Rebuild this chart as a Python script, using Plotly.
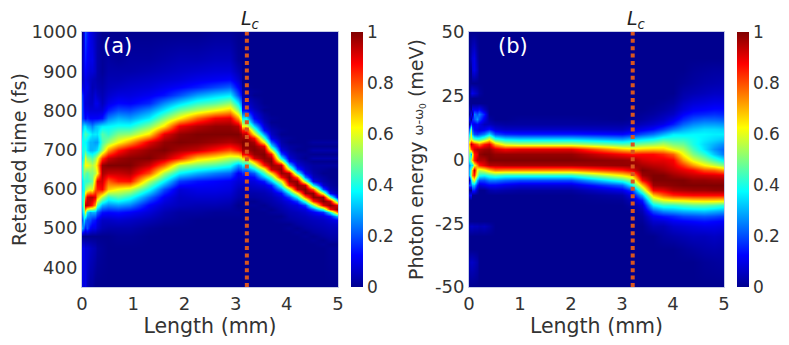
import plotly.graph_objects as go

# panel (a): retarded time vs length
# every dict is one column, rows that are left out are 0
a_time = [350, 450, 480, 500, 520, 540, 560, 580, 600, 620, 640, 660, 680, 700, 720, 740, 760, 780,
          800, 820, 840, 860, 880, 900, 930, 1000]
a_length = [0, 0.03, 0.06, 0.1, 0.15, 0.2, 0.25, 0.3, 0.4, 0.5, 0.7, 0.94, 1.3, 1.6, 1.9, 2.25, 2.6, 2.89, 3.05, 3.2]
a_columns = [
    {350: .1, 450: .1, 500: .3, 520: .2, 540: .3, 560: .35, 580: .38, 600: .35, 620: .35, 640: .4, 660: .4, 680: .35, 700: .38, 720: .38, 740: .35, 760: .3, 780: .2, 800: .2, 820: .2, 840: .18, 860: .1, 880: .05, 900: .05, 930: .05},
    {350: .08, 450: .1, 500: .2, 520: .35, 540: .45, 560: .55, 580: .45, 600: .4, 620: .42, 640: .5, 660: .55, 680: .45, 700: .4, 720: .38, 740: .42, 760: .35, 780: .15, 800: .12, 820: .1, 840: .1, 860: .08, 880: .08, 900: .1, 930: .12, 1000: .12},
    {350: .1, 450: .08, 500: .15, 520: .25, 540: .6, 560: .95, 580: .75, 600: .5, 620: .42, 640: .48, 660: .62, 680: .6, 700: .42, 720: .38, 740: .45, 760: .35, 780: .12, 800: .1, 820: .08, 840: .1, 860: .1, 880: .1, 900: .12, 930: .15, 1000: .2},
    {350: .05, 450: .08, 500: .2, 520: .2, 540: .35, 560: .95, 580: .92, 600: .55, 620: .42, 640: .45, 660: .62, 680: .5, 700: .35, 720: .35, 740: .42, 760: .3, 780: .15, 800: .1, 820: .08, 840: .08, 860: .1, 880: .08, 900: .1, 930: .12, 1000: .15},
    {350: .02, 450: .06, 500: .12, 520: .2, 540: .28, 560: .9, 580: .95, 600: .6, 620: .45, 640: .5, 660: .58, 680: .48, 700: .3, 720: .3, 740: .38, 760: .28, 780: .12, 800: .08, 820: .06, 840: .06, 860: .06, 880: .06, 900: .08, 930: .1, 1000: .1},
    {350: .02, 450: .05, 500: .1, 520: .16, 540: .3, 560: .85, 580: .95, 600: .58, 620: .48, 640: .5, 660: .55, 680: .45, 700: .3, 720: .3, 740: .35, 760: .25, 780: .12, 800: .08, 820: .06, 840: .05, 860: .04, 880: .05, 900: .08, 930: .1, 1000: .08},
    {450: .04, 500: .1, 520: .14, 540: .3, 560: .72, 580: .9, 600: .78, 620: .7, 640: .55, 660: .6, 680: .52, 700: .32, 720: .28, 740: .36, 760: .3, 780: .12, 800: .08, 820: .1, 840: .08, 860: .05, 880: .04, 900: .06, 930: .06, 1000: .05},
    {450: .02, 500: .07, 520: .1, 540: .22, 560: .45, 580: .72, 600: .85, 620: .9, 640: .62, 660: .68, 680: .6, 700: .35, 720: .28, 740: .35, 760: .32, 780: .12, 800: .08, 820: .1, 840: .06, 860: .04, 880: .03, 900: .03, 930: .03, 1000: .03},
    {450: .01, 500: .04, 520: .06, 540: .14, 560: .3, 580: .55, 600: .88, 620: .92, 640: .96, 660: .98, 680: .82, 700: .52, 720: .44, 740: .46, 760: .36, 780: .14, 800: .08, 820: .05, 840: .04, 860: .03, 880: .02, 900: .01, 930: .01},
    {500: .03, 520: .06, 540: .13, 560: .26, 580: .42, 600: .68, 620: .78, 640: .93, 660: 1, 680: .93, 700: .72, 720: .52, 740: .42, 760: .37, 780: .25, 800: .15, 820: .1, 840: .07, 860: .05, 880: .04, 900: .03, 930: .02},
    {480: .01, 500: .03, 520: .07, 540: .14, 560: .28, 580: .46, 600: .62, 620: .85, 640: .93, 660: 1, 680: .97, 700: .85, 720: .62, 740: .5, 760: .39, 780: .3, 800: .2, 820: .13, 840: .09, 860: .06, 880: .04, 900: .03, 930: .01},
    {480: .01, 500: .03, 520: .06, 540: .12, 560: .25, 580: .4, 600: .58, 620: .86, 640: .95, 660: 1, 680: .99, 700: .93, 720: .72, 740: .52, 760: .39, 780: .28, 800: .19, 820: .12, 840: .09, 860: .07, 880: .05, 900: .03, 930: .02},
    {500: .01, 520: .04, 540: .08, 560: .12, 580: .23, 600: .39, 620: .55, 640: .8, 660: .93, 680: 1, 700: .98, 720: .9, 740: .65, 760: .5, 780: .36, 800: .26, 820: .16, 840: .11, 860: .08, 880: .06, 900: .04, 930: .02},
    {520: .02, 540: .04, 560: .07, 580: .11, 600: .2, 620: .37, 640: .54, 660: .78, 680: .95, 700: 1, 720: .98, 740: .9, 760: .65, 780: .5, 800: .36, 820: .26, 840: .14, 860: .1, 880: .07, 900: .05, 930: .03},
    {520: .01, 540: .02, 560: .05, 580: .06, 600: .08, 620: .18, 640: .37, 660: .55, 680: .85, 700: .96, 720: 1, 740: .98, 760: .89, 780: .63, 800: .47, 820: .34, 840: .2, 860: .12, 880: .08, 900: .06, 930: .04},
    {540: .02, 560: .04, 580: .07, 600: .1, 620: .14, 640: .3, 660: .49, 680: .68, 700: .93, 720: .99, 740: 1, 760: .95, 780: .78, 800: .55, 820: .42, 840: .28, 860: .15, 880: .1, 900: .07, 930: .04},
    {540: .01, 560: .04, 580: .07, 600: .1, 620: .125, 640: .25, 660: .45, 680: .62, 700: .86, 720: .97, 740: 1, 760: .98, 780: .88, 800: .62, 820: .46, 840: .33, 860: .19, 880: .11, 900: .08, 930: .05, 1000: .01},
    {540: .01, 560: .03, 580: .06, 600: .09, 620: .11, 640: .22, 660: .4, 680: .55, 700: .8, 720: .95, 740: 1, 760: .98, 780: .9, 800: .68, 820: .52, 840: .36, 860: .22, 880: .12, 900: .08, 930: .05, 1000: .01},
    {540: .01, 580: .03, 600: .05, 620: .08, 640: .11, 660: .28, 680: .55, 700: .86, 720: .97, 740: 1, 760: .95, 780: .72, 800: .5, 820: .36, 840: .2, 860: .12, 880: .07, 900: .04, 930: .01},
    {560: .01, 580: .02, 600: .04, 620: .08, 640: .16, 660: .36, 680: .66, 700: .96, 720: 1, 740: .94, 760: .63, 780: .37, 800: .13, 820: .07, 840: .03, 860: .01},
]

# the falling part of (a) is narrow, so it gets a finer grid
a2_time = [350, 450, 460, 470, 480, 490, 500, 510, 520, 530, 540, 550, 560, 570, 580, 590, 600, 610, 620, 630, 640, 650, 660, 670,
           680, 690, 700, 710, 720, 730, 740, 750, 760, 770, 780, 790, 800, 810, 820, 830, 840, 850, 860, 870, 880, 890, 900, 930, 1000]
a2_length = [3.2, 3.35, 3.55, 3.7, 3.88, 4.05, 4.2, 4.35, 4.52, 4.7, 4.85, 5]
a2_columns = [
    {560: .01, 580: .02, 590: .03, 600: .04, 610: .06, 620: .08, 630: .11, 640: .16, 650: .25, 660: .36, 670: .5, 680: .66, 690: .88, 700: .96, 710: .99, 720: 1, 730: .98, 740: .94, 750: .84, 760: .63, 770: .49, 780: .37, 790: .25, 800: .13, 810: .1, 820: .07, 830: .05, 840: .03, 850: .02, 860: .01},
    {560: .01, 580: .02, 590: .03, 600: .05, 610: .07, 620: .09, 630: .13, 640: .21, 650: .36, 660: .53, 670: .72, 680: .92, 690: .98, 700: 1, 710: .99, 720: .96, 730: .87, 740: .64, 750: .49, 760: .34, 770: .2, 780: .12, 790: .09, 800: .06, 810: .04, 820: .03, 830: .02, 850: .01},
    {550: .01, 570: .02, 580: .03, 590: .04, 600: .06, 610: .09, 620: .15, 630: .31, 640: .44, 650: .6, 660: .86, 670: .96, 680: .99, 690: 1, 700: .97, 710: .9, 720: .63, 730: .43, 740: .27, 750: .125, 760: .08, 770: .05, 780: .03, 790: .02, 810: .01},
    {540: .01, 560: .02, 570: .03, 580: .04, 590: .06, 600: .09, 610: .15, 620: .32, 630: .46, 640: .66, 650: .93, 660: .98, 670: 1, 680: .97, 690: .87, 700: .6, 710: .37, 720: .22, 730: .1, 740: .06, 750: .04, 760: .02, 780: .01},
    {520: .01, 540: .02, 550: .03, 560: .04, 570: .06, 580: .08, 590: .13, 600: .27, 610: .44, 620: .6, 630: .87, 640: .98, 650: .99, 660: .94, 670: .6, 680: .39, 690: .2, 700: .09, 710: .05, 720: .03, 730: .02, 750: .01},
    {500: .01, 520: .02, 530: .03, 540: .04, 550: .05, 560: .07, 570: .1, 580: .18, 590: .35, 600: .55, 610: .87, 620: .98, 630: 1, 640: .95, 650: .6, 660: .35, 670: .15, 680: .08, 690: .05, 700: .03, 710: .02, 730: .01},
    {490: .01, 510: .02, 520: .03, 530: .04, 540: .05, 550: .07, 560: .09, 570: .18, 580: .38, 590: .62, 600: .95, 610: 1, 620: .98, 630: .78, 640: .42, 650: .18, 660: .09, 670: .05, 680: .03, 690: .02, 710: .01},
    {480: .01, 500: .02, 510: .03, 520: .04, 530: .05, 540: .07, 550: .09, 560: .18, 570: .44, 580: .75, 590: .98, 600: 1, 610: .94, 620: .52, 630: .25, 640: .11, 650: .06, 660: .04, 670: .02, 690: .01},
    {470: .01, 490: .02, 500: .03, 510: .04, 520: .05, 530: .07, 540: .11, 550: .22, 560: .5, 570: .84, 580: .99, 590: .99, 600: .78, 610: .37, 620: .1, 630: .05, 640: .03, 650: .02, 660: .02, 680: .03, 700: .03, 720: .02},
    {460: .01, 480: .02, 490: .03, 500: .04, 510: .05, 520: .06, 530: .09, 540: .17, 550: .45, 560: .9, 570: 1, 580: .98, 590: .58, 600: .2, 610: .07, 620: .03, 630: .02, 650: .01, 660: .02, 680: .03, 700: .03, 720: .02},
    {450: .01, 470: .02, 480: .03, 490: .04, 500: .05, 510: .06, 520: .08, 530: .14, 540: .38, 550: .87, 560: 1, 570: .93, 580: .47, 590: .11, 600: .04, 610: .02, 620: .01, 660: .02, 680: .03, 700: .03, 720: .02},
    {450: .01, 470: .02, 480: .03, 490: .04, 500: .05, 510: .07, 520: .11, 530: .32, 540: .8, 550: 1, 560: .9, 570: .38, 580: .08, 590: .03, 600: .015, 660: .02, 680: .03, 700: .03, 720: .02},
]

# panel (b): photon energy vs length, same layout of the values
b_energy = [-50, -40, -35, -30, -26, -24, -22, -20, -18, -16, -14, -12, -10, -8, -6, -4, -2, 0, 2, 4, 6, 8,
            10, 12, 14, 16, 18, 20, 22, 24, 26, 30, 35, 40, 50]
b_length = [0, 0.03, 0.06, 0.1, 0.15, 0.2, 0.3, 0.4, 0.5, 0.7, 1, 2, 3, 3.2, 3.4, 3.6, 3.8, 4, 4.2, 4.4, 4.6, 4.8, 5]
b_columns = [
    {-40: .05, -26: .05, -14: .1, -10: .2, -6: .3, -4: .3, -2: .25, 0: .4, 2: .5, 4: .6, 6: .7, 8: .5, 10: .35, 12: .2, 16: .12, 20: .05},
    {-40: .06, -26: .06, -14: .12, -10: .22, -8: .35, -6: .55, -4: .5, -2: .35, 0: .55, 2: .3, 4: .8, 6: .95, 8: .6, 10: .6, 12: .5, 14: .2, 18: .12, 26: .08, 40: .05},
    {-40: .06, -26: .06, -12: .15, -10: .3, -8: .5, -6: .75, -4: .7, -2: .35, 0: .7, 2: .6, 4: .85, 6: .9, 8: .55, 10: .3, 12: .2, 14: .12, 16: .15, 20: .1, 26: .1, 35: .08, 40: .08},
    {-40: .05, -26: .05, -12: .15, -10: .3, -8: .6, -6: .85, -4: .95, -2: .6, 0: .85, 2: .85, 4: .92, 6: .85, 8: .45, 10: .2, 12: .12, 14: .1, 16: .2, 18: .25, 20: .1, 26: .08, 35: .1, 40: .1},
    {-40: .03, -26: .05, -12: .05, -10: .15, -8: .3, -6: .55, -4: .62, -2: .75, 0: .95, 2: .9, 4: .95, 6: .8, 8: .42, 10: .18, 12: .1, 14: .12, 16: .28, 18: .2, 20: .1, 26: .05, 35: .05, 40: .03},
    {-26: .04, -10: .08, -8: .2, -6: .4, -4: .55, -2: .85, 0: .95, 2: .98, 4: .95, 6: .75, 8: .42, 10: .2, 12: .08, 14: .1, 16: .2, 18: .25, 20: .12, 26: .02},
    {-26: .05, -10: .1, -8: .2, -6: .38, -4: .6, -2: .9, 0: .95, 2: 1, 4: .97, 6: .85, 8: .5, 10: .25, 12: .1, 14: .05, 16: .1, 18: .15, 20: .05},
    {-26: .03, -12: .03, -10: .12, -8: .25, -6: .42, -4: .68, -2: .95, 0: 1, 2: 1, 4: .98, 6: .9, 8: .62, 10: .35, 12: .14, 14: .05, 16: .02},
    {-12: .04, -10: .12, -8: .25, -6: .45, -4: .75, -2: .95, 0: 1, 2: .98, 4: .92, 6: .7, 8: .42, 10: .2, 12: .08, 14: .03},
    {-12: .03, -10: .1, -8: .22, -6: .42, -4: .74, -2: .96, 0: 1, 2: .98, 4: .88, 6: .58, 8: .36, 10: .16, 12: .06, 14: .02},
    {-12: .02, -10: .08, -8: .2, -6: .42, -4: .74, -2: .96, 0: 1, 2: .98, 4: .9, 6: .55, 8: .34, 10: .15, 12: .06, 14: .02, 16: .01},
    {-12: .02, -10: .08, -8: .2, -6: .42, -4: .74, -2: .96, 0: 1, 2: .98, 4: .9, 6: .55, 8: .34, 10: .15, 12: .06, 14: .02, 16: .01},
    {-16: .01, -14: .03, -12: .1, -10: .22, -8: .43, -6: .64, -4: .85, -2: .98, 0: .98, 2: .88, 4: .68, 6: .46, 8: .28, 10: .13, 12: .05, 14: .02},
    {-18: .02, -16: .05, -14: .1, -12: .18, -10: .38, -8: .52, -6: .7, -4: .9, -2: .98, 0: .97, 2: .86, 4: .65, 6: .47, 8: .32, 10: .16, 12: .08, 14: .03, 16: .01},
    {-24: .01, -22: .02, -20: .04, -18: .08, -16: .15, -14: .3, -12: .5, -10: .68, -8: .88, -6: .97, -4: 1, -2: .96, 0: .92, 2: .87, 4: .67, 6: .5, 8: .35, 10: .2, 12: .1, 14: .05, 16: .02, 18: .01},
    {-26: .04, -24: .07, -22: .11, -20: .2, -18: .36, -16: .52, -14: .68, -12: .88, -10: .97, -8: 1, -6: 1, -4: .98, -2: .94, 0: .9, 2: .87, 4: .68, 6: .52, 8: .38, 10: .24, 12: .13, 14: .07, 16: .04, 18: .02, 20: .01},
    {-30: .02, -26: .04, -24: .08, -22: .14, -20: .26, -18: .42, -16: .6, -14: .78, -12: .9, -10: .98, -8: 1, -6: 1, -4: .96, -2: .93, 0: .9, 2: .84, 4: .67, 6: .55, 8: .43, 10: .3, 12: .18, 14: .1, 16: .06, 18: .04, 20: .02, 22: .01},
    {-30: .03, -26: .07, -24: .11, -22: .16, -20: .28, -18: .42, -16: .63, -14: .84, -12: .95, -10: .99, -8: 1, -6: .97, -4: .93, -2: .9, 0: .88, 2: .78, 4: .6, 6: .5, 8: .42, 10: .36, 12: .24, 14: .15, 16: .1, 18: .06, 20: .04, 22: .02, 24: .01},
    {-35: .01, -30: .04, -26: .08, -24: .12, -22: .19, -20: .3, -18: .45, -16: .64, -14: .86, -12: .96, -10: 1, -8: 1, -6: .95, -4: .9, -2: .82, 0: .72, 2: .62, 4: .55, 6: .48, 8: .42, 10: .36, 12: .29, 14: .22, 16: .16, 18: .12, 20: .08, 22: .06, 24: .04, 26: .03, 30: .01},
    {-35: .02, -30: .05, -26: .09, -24: .13, -22: .2, -20: .31, -18: .47, -16: .66, -14: .87, -12: .97, -10: 1, -8: .98, -6: .93, -4: .87, -2: .72, 0: .6, 2: .5, 4: .44, 6: .4, 8: .39, 10: .37, 12: .32, 14: .26, 16: .2, 18: .15, 20: .11, 22: .08, 24: .06, 26: .04, 30: .02, 35: .01},
    {-40: .01, -35: .03, -30: .05, -26: .1, -24: .14, -22: .21, -20: .32, -18: .47, -16: .67, -14: .87, -12: .97, -10: 1, -8: .98, -6: .92, -4: .8, -2: .63, 0: .52, 2: .42, 4: .35, 6: .34, 8: .36, 10: .37, 12: .34, 14: .28, 16: .22, 18: .16, 20: .12, 22: .09, 24: .07, 26: .05, 30: .03, 35: .015},
    {-40: .015, -35: .035, -30: .06, -26: .1, -24: .13, -22: .2, -20: .3, -18: .45, -16: .67, -14: .87, -12: .98, -10: 1, -8: .97, -6: .91, -4: .78, -2: .57, 0: .44, 2: .32, 4: .27, 6: .3, 8: .34, 10: .36, 12: .34, 14: .28, 16: .22, 18: .17, 20: .13, 22: .1, 24: .08, 26: .06, 30: .035, 35: .02},
    {-40: .02, -35: .03, -30: .05, -26: .09, -24: .12, -22: .18, -20: .28, -18: .42, -16: .66, -14: .87, -12: .98, -10: 1, -8: .97, -6: .9, -4: .72, -2: .5, 0: .36, 2: .24, 4: .22, 6: .26, 8: .32, 10: .36, 12: .33, 14: .27, 16: .21, 18: .16, 20: .13, 22: .1, 24: .08, 26: .06, 30: .04, 35: .02},
]

colorbar_ticks = [0, 0.2, 0.4, 0.6, 0.8, 1]
colorbar_labels = ['0', '0.2', '0.4', '0.6', '0.8', '1']
a_yticks = [400, 500, 600, 700, 800, 900, 1000]
b_yticks = [-50, -25, 0, 25, 50]
b_ylabels = ['-50', '-25', '0', '25', '50']
x_ticks = [0, 1, 2, 3, 4, 5]
Lc_a = 3.22
Lc_b = 3.21

# the page keeps its 8px body margin, so everything here is 8px up and left of the picture
W, H = 781, 337
TEXT = '#333333'
FONT = 'DejaVu Sans'
JET = [[0, 'rgb(0,0,143)'], [0.125, 'rgb(0,0,255)'], [0.375, 'rgb(0,255,255)'],
       [0.625, 'rgb(255,255,0)'], [0.875, 'rgb(255,0,0)'], [1, 'rgb(128,0,0)']]
TOP, BOTTOM = 24, 279
Y_DOMAIN = [(H - BOTTOM) / H, (H - TOP) / H]


def to_rows(rows, columns):
    return [[col.get(r, 0) for col in columns] for r in rows]


def colorbar(x0):
    return dict(x=x0 / W, xanchor='left', xref='paper', y=sum(Y_DOMAIN) / 2, yanchor='middle', yref='paper',
                len=(BOTTOM - TOP) / H, lenmode='fraction',
                thickness=12, thicknessmode='pixels', xpad=0, ypad=0, outlinewidth=0,
                tickmode='array', tickvals=colorbar_ticks, ticktext=colorbar_labels,
                ticks='', tickfont=dict(size=17, color=TEXT, family=FONT))


fig = go.Figure()
fig.add_trace(go.Heatmap(x=a_length, y=a_time, z=to_rows(a_time, a_columns), zmin=0, zmax=1, colorscale=JET,
                         zsmooth='best', xaxis='x', yaxis='y', colorbar=colorbar(343)))
fig.add_trace(go.Heatmap(x=a2_length, y=a2_time, z=to_rows(a2_time, a2_columns), zmin=0, zmax=1, colorscale=JET,
                         zsmooth='best', xaxis='x', yaxis='y', showscale=False))
fig.add_trace(go.Heatmap(x=b_length, y=b_energy, z=to_rows(b_energy, b_columns), zmin=0, zmax=1, colorscale=JET,
                         zsmooth='best', xaxis='x2', yaxis='y2', colorbar=colorbar(729)))

line = dict(color='#d9541e', width=4, dash='4px,3.4px')
fig.add_trace(go.Scatter(x=[Lc_a, Lc_a], y=[350, 1000], mode='lines', line=line, xaxis='x', yaxis='y', showlegend=False))
fig.add_trace(go.Scatter(x=[Lc_b, Lc_b], y=[-50, 50], mode='lines', line=line, xaxis='x2', yaxis='y2', showlegend=False))

axis = dict(showgrid=False, zeroline=False, ticks='', mirror=True, showline=True, linecolor='#c4cbe6', linewidth=1,
            automargin=False, tickfont=dict(size=18, color=TEXT, family=FONT))
x_title_font = dict(size=20.5, color=TEXT, family=FONT)
y_title_font = dict(size=19, color=TEXT, family=FONT)
fig.update_layout(
    width=W, height=H, margin=dict(l=0, r=0, t=0, b=0, autoexpand=False), autosize=False,
    paper_bgcolor='white', plot_bgcolor='white', showlegend=False,
    xaxis=dict(axis, domain=[74 / W, 330 / W], range=[0, 5], tickvals=x_ticks, anchor='y',
               title=dict(text='Length (mm)', font=x_title_font, standoff=4)),
    yaxis=dict(axis, domain=Y_DOMAIN, range=[350, 1000], tickvals=a_yticks, anchor='x',
               title=dict(text='Retarded time (fs)', font=y_title_font, standoff=3)),
    xaxis2=dict(axis, domain=[461 / W, 716 / W], range=[0, 5], tickvals=x_ticks, anchor='y2',
                title=dict(text='Length (mm)', font=x_title_font, standoff=4)),
    yaxis2=dict(axis, domain=Y_DOMAIN, range=[-50, 50], tickvals=b_yticks, ticktext=b_ylabels, anchor='x2',
                title=dict(text='Photon energy <span style="font-size:13px">ω-ω<sub>0</sub></span> (meV)',
                           font=y_title_font, standoff=6)),
    annotations=[
        dict(text='(a)', x=0.7, y=964, xref='x', yref='y', showarrow=False, font=dict(size=21, color='white', family=FONT)),
        dict(text='(b)', x=0.86, y=44.5, xref='x2', yref='y2', showarrow=False, font=dict(size=21, color='white', family=FONT)),
        dict(text='<i>L<sub>c</sub></i>', x=Lc_a, y=Y_DOMAIN[1], xref='x', yref='paper', yanchor='bottom', yshift=-2, xshift=4, showarrow=False,
             font=dict(size=19, color='#222222', family=FONT)),
        dict(text='<i>L<sub>c</sub></i>', x=Lc_b, y=Y_DOMAIN[1], xref='x2', yref='paper', yanchor='bottom', yshift=-2, xshift=4, showarrow=False,
             font=dict(size=19, color='#222222', family=FONT)),
    ],
)
fig.write_html('out.html')
